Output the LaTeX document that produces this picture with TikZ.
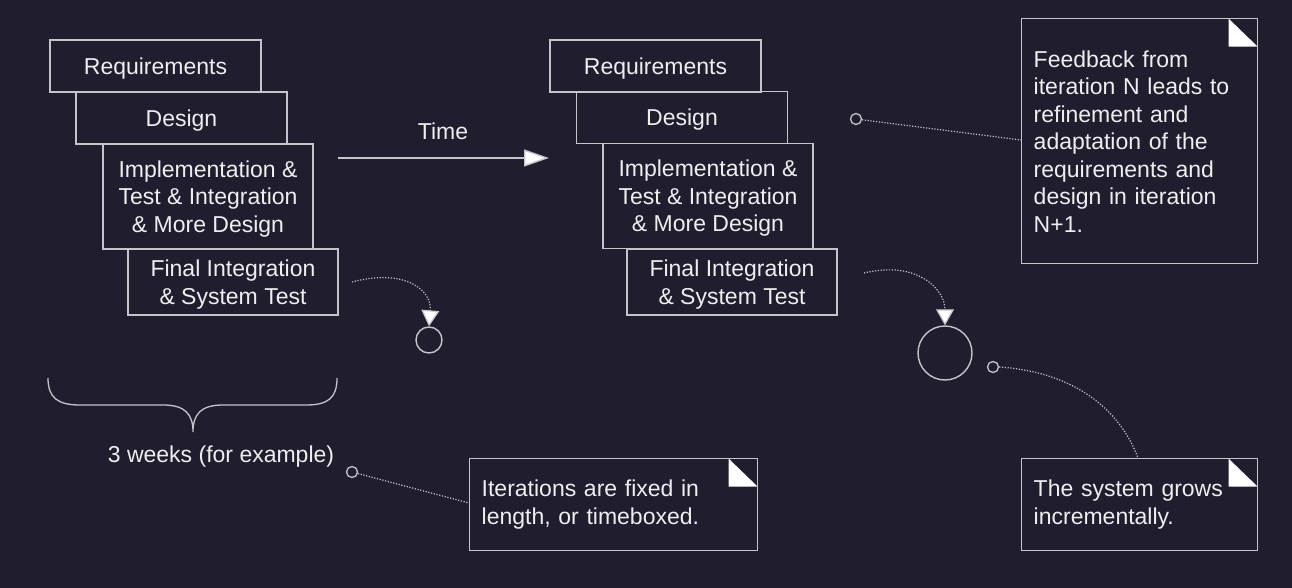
\documentclass[tikz,border=0pt]{standalone}
\usepackage{fontspec}
\setmainfont{Liberation Sans}
\usetikzlibrary{arrows.meta,calc}
\definecolor{bg}{HTML}{201E2E}
\definecolor{ln}{HTML}{C4C4CC}
\definecolor{tx}{HTML}{EEEEF0}
\begin{document}
\begin{tikzpicture}[x=1pt,y=-1pt,
  every node/.style={text=tx,font=\fontsize{23}{27.5}\selectfont},
  phase/.style={draw=ln,line width=1.4pt,inner sep=0pt,align=center,text depth=-2pt},
  note/.style={draw=ln,line width=1.4pt,anchor=north west,align=left,inner xsep=12pt,
    path picture={\fill[white] ($(path picture bounding box.north east)+(-29pt,0pt)$) -- ++(0pt,-28pt) -- ++(29pt,0pt) -- cycle;}},
  pin/.style={circle,draw=ln,line width=1.3pt,minimum size=11pt,inner sep=0pt},
  blob/.style={circle,draw=ln,line width=1.4pt,inner sep=0pt},
  dots/.style={draw=ln,line width=1.2pt,dash pattern=on 1.2pt off 1.6pt},
  tip/.style={-{Triangle[fill=white,length=16pt,width=18pt]}}
]
\fill[bg] (0,0) rectangle (1292,588);
\useasboundingbox (0,0) rectangle (1292,588);

% left iteration
\node[phase,minimum width=211pt,minimum height=52pt] (r1) at (155.5,66) {Requirements};
\node[phase,minimum width=211pt,minimum height=52pt] (d1) at (181.5,118) {Design};
\node[phase,minimum width=210pt,minimum height=105pt] (i1) at (208,196.5) {Implementation \&\\Test \& Integration\\\& More Design};
\node[phase,minimum width=210pt,minimum height=66pt] (f1) at (233,282) {Final Integration\\\& System Test};

% right iteration
\node[phase,minimum width=211pt,minimum height=52pt] (r2) at (655.5,66) {Requirements};
\node[phase,minimum width=211pt,minimum height=52pt] (d2) at (682,117.5) {Design};
\node[phase,minimum width=210pt,minimum height=105pt] (i2) at (708,196) {Implementation \&\\Test \& Integration\\\& More Design};
\node[phase,minimum width=210pt,minimum height=66pt] (f2) at (732,282) {Final Integration\\\& System Test};

% time arrow
\coordinate (ta) at (338,158);
\coordinate (tb) at (549,158);
\draw[ln,line width=1.4pt,-{Triangle[fill=white,length=25pt,width=17pt]}] (ta) -- (tb);
\node (time) at (443,131) {Time};

% system circles
\node[blob,minimum size=26pt] (s1) at (429,340) {};
\node[blob,minimum size=54pt] (s2) at (945,353) {};
\coordinate (a1) at (352,282);
\coordinate (a2) at (864,273);
\draw[dots,tip] (a1) .. controls (405,268) and (432,290) .. (s1.north);
\draw[dots,tip] (a2) .. controls (918,260) and (945,290) .. (s2.north);

% brace
\draw[ln,line width=1.3pt] (48,378) .. controls (48,398) and (58,405) .. (80,405) -- (163,405)
  .. controls (185,405) and (193,414) .. (193,432)
  .. controls (193,414) and (201,405) .. (223,405) -- (306,405)
  .. controls (328,405) and (337,398) .. (337,378);
\node (wk) at (221,457) {3 weeks (for example)};

% notes
\node[note,minimum width=236pt,minimum height=245pt,text width=212pt] (fb) at (1021,18)
  {Feedback from\\iteration N leads to\\refinement and\\adaptation of the\\requirements and\\design in iteration\\N+1.};
\node[note,minimum width=288pt,minimum height=92pt,text width=264pt] (it) at (469,458)
  {Iterations are fixed in\\length, or timeboxed.};
\node[note,minimum width=236pt,minimum height=92pt,text width=212pt] (sg) at (1021,458)
  {The system grows\\incrementally.};

% note connectors
\node[pin] (p1) at (856,119) {};
\node[pin] (p2) at (352,472) {};
\node[pin] (p3) at (993,367) {};
\coordinate (e1) at (1021,140);
\coordinate (e2) at (469,503);
\coordinate (e3) at (1138,458);
\draw[dots] (p1) -- (e1);
\draw[dots] (p2) -- (e2);
\draw[dots] (p3.east) .. controls (1075,372) and (1120,410) .. (e3);
\end{tikzpicture}
\end{document}
